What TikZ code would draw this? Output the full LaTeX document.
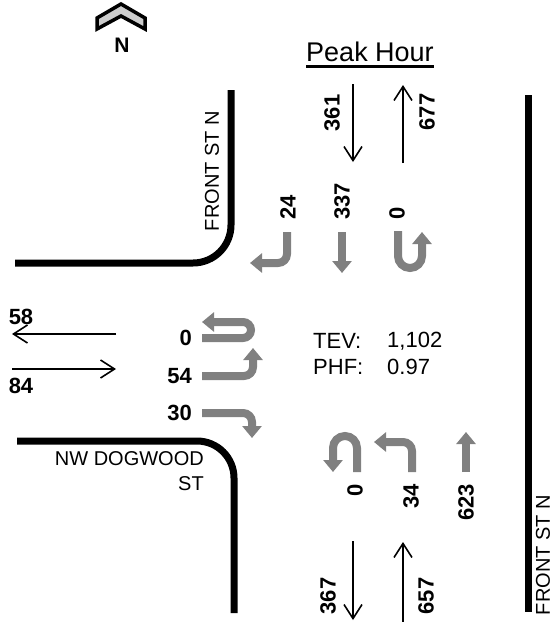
\documentclass[tikz,border=0pt]{standalone}
\usepackage{fontspec}
\setmainfont{Liberation Sans}
\usetikzlibrary{arrows.meta}
\definecolor{mvgray}{RGB}{128,128,128}
\tikzset{
  curb/.style={line width=7pt, line cap=butt},
  mv/.style={draw=mvgray, line width=8pt, rounded corners=9pt, -{Triangle[width=19pt,length=12pt]}},
  vol/.style={line width=1.6pt, -{Straight Barb[length=14pt,width=18pt,line width=1.6pt]}},
  num/.style={font=\fontsize{22}{24}\selectfont\bfseries, inner sep=1pt},
  lbl/.style={font=\fontsize{20}{25}\selectfont, inner sep=0pt},
  tot/.style={font=\fontsize{22}{25}\selectfont, inner sep=0pt},
}
\begin{document}
\begin{tikzpicture}[x=1pt,y=-1pt]
\useasboundingbox (0,0) rectangle (553,622);
% north arrow
\draw[line width=3.5pt, fill=gray!40, line join=miter] (97,29) -- (97,18) -- (121,4) -- (145,18) -- (145,29) -- (121,16) -- cycle;
\node[num, font=\fontsize{21}{24}\selectfont\bfseries] (north) at (122,45) {N};
% title
\node[font=\fontsize{27}{30}\selectfont, inner xsep=0pt, inner ysep=4.5pt] (ph) at (370,52) {Peak Hour};
\draw[line width=2.5pt] (ph.south west) -- (ph.south east);
% curbs
\draw[curb, rounded corners=38pt] (15,263) -- (231,263) -- (231,90);
\draw[curb, rounded corners=37pt] (17,441) -- (234,441) -- (234,613);
\draw[curb] (528,95) -- (528,612);
% street names
\node[lbl, rotate=90] (fs1) at (212,171) {FRONT ST N};
\node[lbl, rotate=90] (fs2) at (543,555) {FRONT ST N};
\node[lbl, align=right, anchor=north east] (dog) at (204,451) {NW DOGWOOD\\ST};
% approach volumes
\coordinate (sbA) at (353,84); \coordinate (sbB) at (353,162);
\coordinate (nbA) at (403,163); \coordinate (nbB) at (403,85);
\draw[vol] (sbA) -- (sbB);
\draw[vol] (nbA) -- (nbB);
\node[num, rotate=90] (v361) at (332,113) {361};
\node[num, rotate=90] (v677) at (427,112) {677};
\coordinate (wbA) at (116,334); \coordinate (wbB) at (12,334);
\coordinate (ebA) at (12,369); \coordinate (ebB) at (116,369);
\draw[vol] (wbA) -- (wbB);
\draw[vol] (ebA) -- (ebB);
\node[num] (v58) at (21,317) {58};
\node[num] (v84) at (21,386) {84};
\coordinate (sdA) at (353,541); \coordinate (sdB) at (353,620);
\coordinate (nuA) at (403,622); \coordinate (nuB) at (403,542);
\draw[vol] (sdA) -- (sdB);
\draw[vol] (nuA) -- (nuB);
\node[num, rotate=90] (v367) at (328,596) {367};
\node[num, rotate=90] (v657) at (426,596) {657};
% southbound movements
\draw[mv] (287,232) -- (287,263) -- (250,263);
\draw[mv] (342,232) -- (342,273);
\draw[mv, rounded corners=12pt] (398,231) -- (398,268) -- (422,268) -- (422,232);
\node[num, rotate=90, anchor=west] (s24) at (288,221) {24};
\node[num, rotate=90, anchor=west] (s337) at (342,221) {337};
\node[num, rotate=90, anchor=west] (s0) at (397,221) {0};
% eastbound movements
\draw[mv, rounded corners=8pt] (202,338) -- (251,338) -- (251,322) -- (202,322);
\draw[mv] (202,376) -- (253,376) -- (253,348);
\draw[mv] (202,413) -- (252,413) -- (252,438);
\node[num, anchor=east] (e0) at (193,338) {0};
\node[num, anchor=east] (e54) at (193,376) {54};
\node[num, anchor=east] (e30) at (193,413) {30};
% northbound movements
\draw[mv, rounded corners=12pt] (357,472) -- (357,436) -- (333,436) -- (333,472);
\draw[mv] (412,472) -- (412,442) -- (374,442);
\draw[mv] (466,472) -- (466,432);
\node[num, rotate=90, anchor=east] (n0) at (355,483) {0};
\node[num, rotate=90, anchor=east] (n34) at (411,483) {34};
\node[num, rotate=90, anchor=east] (n623) at (466,483) {623};
% totals
\node[tot, anchor=west] (tev) at (313,341) {TEV:};
\node[tot, anchor=west] (tevv) at (387,341) {1,102};
\node[tot, anchor=west] (phf) at (313,367) {PHF:};
\node[tot, anchor=west] (phfv) at (387,367) {0.97};
\end{tikzpicture}
\end{document}
